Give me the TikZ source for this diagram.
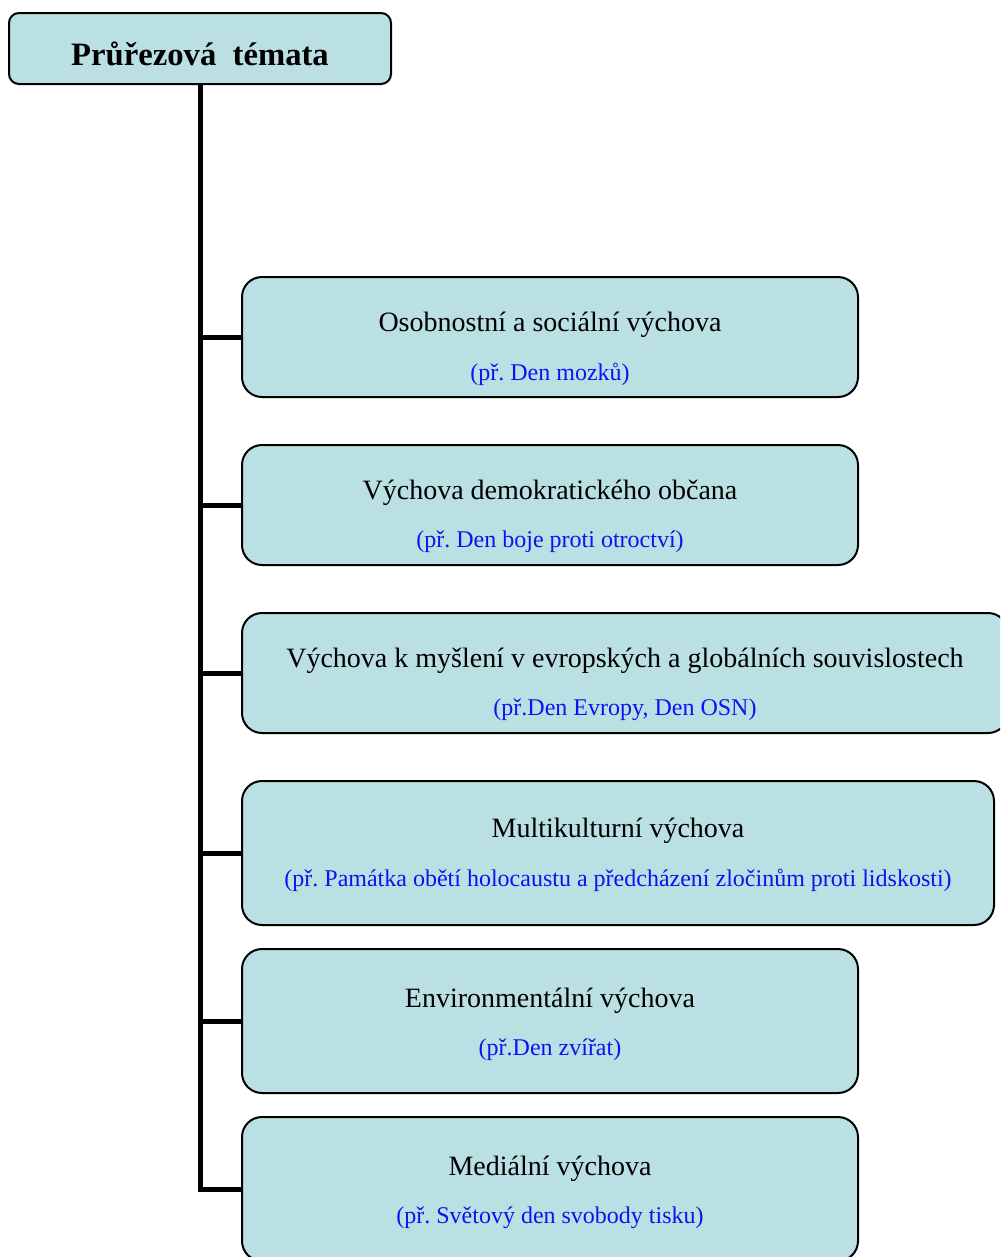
\documentclass[tikz,border=0pt]{standalone}
\usepackage{fontspec}
\setmainfont{Liberation Serif}
\frenchspacing
\definecolor{boxfill}{HTML}{BBE0E3}
\definecolor{subblue}{HTML}{0A14F0}
\begin{document}
\begin{tikzpicture}[x=0.75pt,y=-0.75pt,
  box/.style={draw=black, line width=1.5pt, fill=boxfill, rounded corners=15pt, inner sep=0pt},
  titlebox/.style={draw=black, line width=1.5pt, fill=boxfill, rounded corners=7.5pt, inner sep=0pt,
     minimum width=286.5pt, minimum height=53.25pt},
  maintext/.style={font=\fontsize{21}{25}\selectfont, inner sep=0pt, anchor=center},
  subtext/.style={font=\fontsize{18}{22}\selectfont, text=subblue, inner sep=0pt, anchor=center},
  conn/.style={line width=3.75pt, line join=miter}]
\useasboundingbox (0,0) rectangle (1000,1257);
\clip (0,0) rectangle (1000,1257);
\fill[white] (0,0) rectangle (1000,1257);
% title
\node[titlebox] (title) at (200,48.5) {};
\node[font=\fontsize{24.5}{29}\selectfont\bfseries, inner sep=0pt] (titletext) at (200,54) {Průřezová\ \ témata};
% boxes
\node[box, minimum width=462pt, minimum height=90pt] (b1) at (550,337) {};
\node[box, minimum width=462pt, minimum height=90pt] (b2) at (550,505) {};
\node[box, minimum width=574.5pt, minimum height=90pt] (b3) at (625,673) {};
\node[box, minimum width=564pt, minimum height=108pt] (b4) at (618,853) {};
\node[box, minimum width=462pt, minimum height=108pt] (b5) at (550,1021) {};
\node[box, minimum width=462pt, minimum height=108pt] (b6) at (550,1189) {};
% connectors
\draw[conn] (title.south) -- (title.south |- b6.west) -- (b6.west);
\foreach \b in {b1,b2,b3,b4,b5}{
  \draw[conn] (title.south |- \b.west) -- (\b.west);
}
% texts
\node[maintext] (t1) at (550,325) {Osobnostní a sociální výchova};
\node[subtext] (s1) at (550,374) {(př. Den mozků)};
\node[maintext] (t2) at (550,493) {Výchova demokratického občana};
\node[subtext] (s2) at (550,542) {(př. Den boje proti otroctví)};
\node[maintext] (t3) at (625,661) {Výchova k myšlení v evropských a globálních souvislostech};
\node[subtext] (s3) at (625,710) {(př.Den Evropy, Den OSN)};
\node[maintext] (t4) at (618,831) {Multikulturní výchova};
\node[subtext] (s4) at (618,880) {(př. Památka obětí holocaustu a předcházení zločinům proti lidskosti)};
\node[maintext] (t5) at (550,1001) {Environmentální výchova};
\node[subtext] (s5) at (550,1050) {(př.Den zvířat)};
\node[maintext] (t6) at (550,1169) {Mediální výchova};
\node[subtext] (s6) at (550,1218) {(př. Světový den svobody tisku)};
\end{tikzpicture}
\end{document}
